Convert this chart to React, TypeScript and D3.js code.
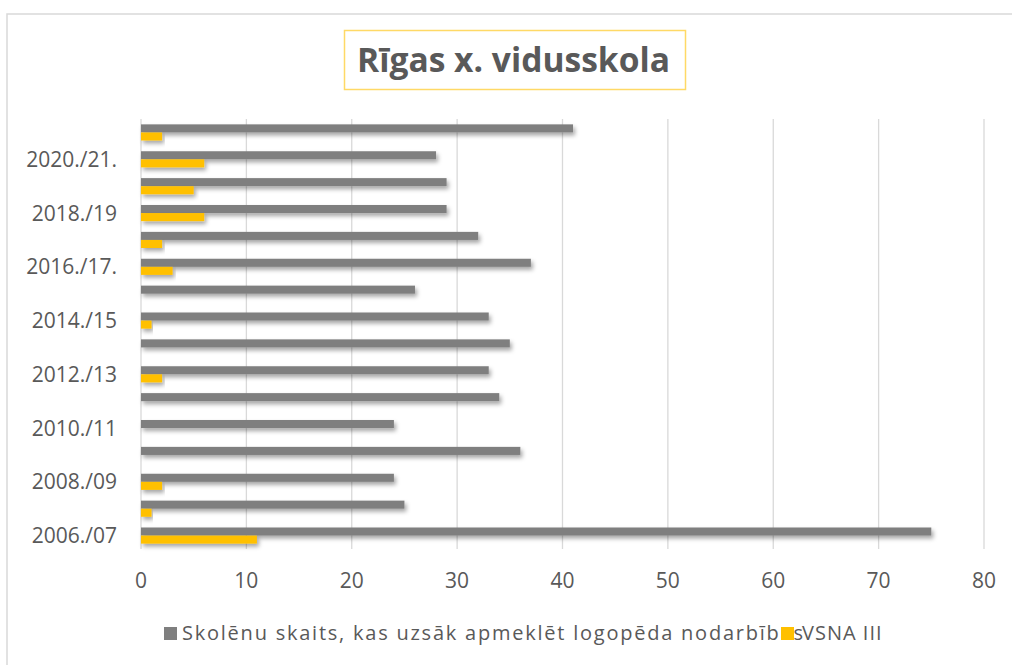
import * as d3 from "d3";

// kategorijas no apakšas uz augšu
const years = [
  "2006./07", "2007./08", "2008./09", "2009./10", "2010./11", "2011./12",
  "2012./13", "2013./14", "2014./15", "2015./16", "2016./17.", "2017./18",
  "2018./19", "2019./20", "2020./21.", "2021./22",
];
const skolenuSkaits = [75, 25, 24, 36, 24, 34, 33, 35, 33, 26, 37, 32, 29, 29, 28, 41];
const vsna = [11, 1, 2, 0, 0, 0, 2, 0, 1, 0, 3, 2, 6, 5, 6, 2];
const xTicks = [0, 10, 20, 30, 40, 50, 60, 70, 80];
const seriesNames = ["Skolēnu skaits, kas uzsāk apmeklēt logopēda nodarbības", "VSNA III"];
const title = "Rīgas x. vidusskola";

const GRAY = "#7f7f7f";
const YELLOW = "#ffc000";
const TEXT = "#595959";
const FONT = "'Open Sans', 'DejaVu Sans', sans-serif";

export default function App() {
  const W = 1012;
  const H = 665;
  const plot = { left: 141, right: 984, top: 119, bottom: 549 };

  const x = d3.scaleLinear().domain([0, 80]).range([plot.left, plot.right]);
  // augšā jaunākais gads
  const y = d3
    .scaleBand<string>()
    .domain([...years].reverse())
    .range([plot.top, plot.bottom])
    .paddingInner(0.4)
    .paddingOuter(0.2);
  const sub = d3
    .scaleBand<string>()
    .domain(["a", "b"])
    .range([0, y.bandwidth()]);

  const rows = years.map((yr, i) => ({ yr, a: skolenuSkaits[i], b: vsna[i] }));

  return (
    <svg
      width={W}
      height={H}
      style={{ position: "absolute", left: 0, top: 0, background: "#fff" }}
      fontFamily={FONT}
    >
      <defs>
        <filter id="shadow" x="-5%" y="-50%" width="115%" height="250%">
          <feDropShadow dx="2" dy="3" stdDeviation="2" floodColor="#000" floodOpacity="0.35" />
        </filter>
      </defs>
      <rect x={7} y={14} width={W} height={H} fill="#fff" stroke="#d9d9d9" strokeWidth={1.5} />

      {/* virsraksts */}
      <rect x={344.5} y={30.5} width={341} height={59} fill="#fff" stroke="#ffd966" strokeWidth={1.5} />
      <text
        x={357}
        y={72}
        fontSize={34}
        fontWeight="bold"
        fill={TEXT}
        textLength={313}
        lengthAdjust="spacingAndGlyphs"
      >
        {title}
      </text>

      {/* režģis */}
      {xTicks.map((t) => (
        <line key={t} x1={x(t)} x2={x(t)} y1={plot.top} y2={plot.bottom} stroke="#d9d9d9" strokeWidth={1.3} />
      ))}

      {/* stabiņi */}
      {rows.map((r) => (
        <g key={r.yr} transform={`translate(0,${y(r.yr)})`}>
          <rect
            x={x(0)}
            y={sub("a")}
            width={x(r.a) - x(0)}
            height={sub.bandwidth()}
            fill={GRAY}
            filter="url(#shadow)"
          />
          {r.b > 0 && (
            <rect
              x={x(0)}
              y={sub("b")}
              width={x(r.b) - x(0)}
              height={sub.bandwidth()}
              fill={YELLOW}
              filter="url(#shadow)"
            />
          )}
        </g>
      ))}

      {/* Y ass etiķetes - katra otrā */}
      {years
        .filter((_, i) => i % 2 === 0)
        .map((yr) => (
          <text
            key={yr}
            x={117}
            y={y(yr)! + y.bandwidth() / 2}
            dy="0.36em"
            textAnchor="end"
            fontSize={21}
            fill={TEXT}
          >
            {yr}
          </text>
        ))}

      {/* X ass etiķetes */}
      {xTicks.map((t) => (
        <text key={t} x={x(t)} y={580} dy="0.36em" textAnchor="middle" fontSize={21} fill={TEXT}>
          {t}
        </text>
      ))}

      {/* leģenda */}
      <rect x={164} y={627} width={13} height={13} fill={GRAY} />
      <text x={182} y={640} fontSize={20} fill={TEXT} textLength={621} lengthAdjust="spacing">
        {seriesNames[0]}
      </text>
      <rect x={781} y={627} width={13} height={13} fill={YELLOW} />
      <text x={802} y={640} fontSize={20} fill={TEXT} letterSpacing={1}>
        {seriesNames[1]}
      </text>
    </svg>
  );
}
